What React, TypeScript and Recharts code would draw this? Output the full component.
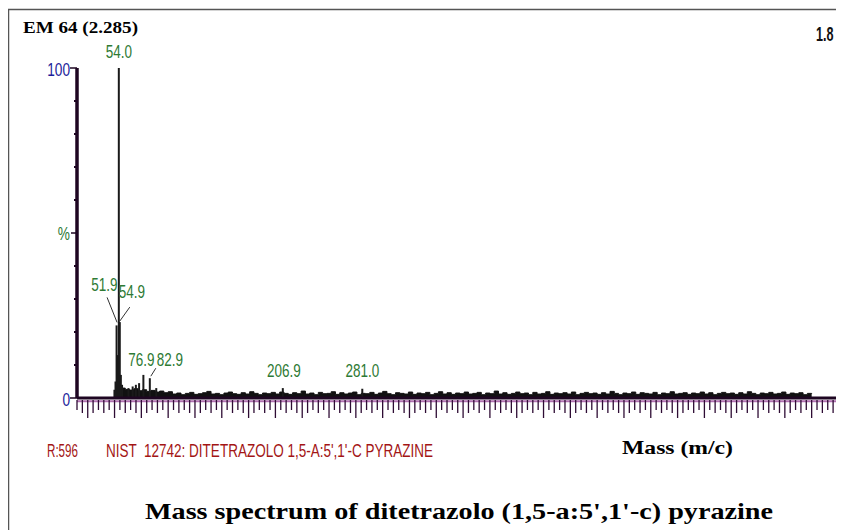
import React from 'react';
import { ComposedChart, Area, Scatter, ErrorBar, XAxis, YAxis, ReferenceDot, ReferenceLine } from 'recharts';

// Stick spectrum (m/z and relative intensity in %)
const peakMass = [49.9, 50.9, 51.9, 52.9, 54.0, 54.9, 55.9, 57.0, 63.0, 66.9, 69.9, 72.9, 76.9, 82.9, 88.9, 206.9, 281.0];
const peakIntensity = [2.5, 5, 22, 13, 100, 23, 7, 4, 3, 3.5, 4, 4.5, 7, 6, 3, 3, 2.8];

// Peaks that carry a mass label in the original
const labelledPeaks = [54.0, 51.9, 54.9, 76.9, 82.9, 206.9, 281.0];
const peakLabelText = ['54.0', '51.9', '54.9', '76.9', '82.9', '206.9', '281.0'];

// Baseline noise, sampled every 4 m/z from 56 (estimated band height, %)
const noiseStart = 56;
const noiseStep = 4;
const noiseLevel = [
  3.0, 2.6, 2.4, 2.8, 2.2, 2.5, 2.0, 2.3, 1.8, 2.1, 1.6, 1.9,
  1.2, 1.5, 1.0, 1.4, 1.7, 1.1, 1.3, 1.6, 2.0, 1.2,
  1.4, 1.0, 1.5, 1.8, 1.3, 1.1, 1.6, 1.2, 1.9, 1.4,
  1.0, 1.5, 1.3, 1.7, 1.2, 1.8, 1.4, 1.1, 1.6, 1.3,
  2.1, 1.2, 1.5, 1.0, 1.7, 1.3, 1.4, 1.9, 1.1, 1.6,
  1.2, 1.5, 1.8, 1.0, 1.4, 1.3, 1.7, 1.1, 1.5, 2.0,
  1.3, 1.0, 1.6, 1.4, 1.2, 1.8, 1.1, 1.5, 1.3, 1.7,
  1.0, 1.4, 1.9, 1.2, 1.6, 1.1, 1.5, 1.3, 1.8, 1.2,
  1.4, 1.7, 1.0, 1.5, 1.3, 2.1, 1.2, 1.6, 1.1, 1.4,
  1.8, 1.3, 1.5, 1.0, 1.7, 1.2, 1.4, 1.9, 1.1, 1.5,
  1.3, 1.6, 1.2, 1.8, 1.0, 1.4, 1.7, 1.3, 1.5, 1.1,
  1.6, 1.2, 2.0, 1.4, 1.0, 1.5, 1.3, 1.8, 1.1, 1.6,
  1.4, 1.2, 1.7, 1.0, 1.5, 1.3, 1.9, 1.2, 1.4, 1.6,
  1.1, 1.5, 1.3, 1.8, 1.2, 1.6, 1.0, 1.4, 1.7, 1.3,
  1.5, 1.1, 1.6, 1.2, 1.9, 1.4, 1.0, 1.5, 1.3, 1.7,
  1.2, 1.4, 1.8, 1.1, 1.5, 1.3, 1.6, 1.0, 1.4, 1.2,
];

const yTicks = [0, 10, 20, 30, 40, 50, 60, 70, 80, 90, 100];
const xDomain: [number, number] = [15, 760];

// noise band goes in the chart data, the sticks get their own table
const noiseRows = noiseLevel.map((v, i) => ({ mass: noiseStart + i * noiseStep, noise: v }));
const peakRows = peakMass.map((m, i) => ({ mass: m, peak: peakIntensity[i], drop: [peakIntensity[i], 0] }));

const xTicks: number[] = [];
for (let m = xDomain[0]; m <= xDomain[1]; m += 5) xTicks.push(m);

const GREEN = '#2e7a34';
const BLUE = '#1c1c9a';
const AXIS = '#1e0622';
const SANS = '"Liberation Sans", Arial, sans-serif';
const SERIF = '"Liberation Serif", "Times New Roman", serif';

// condensed text (the original uses a narrow face)
const Narrow = ({ x, y, anchor = 'start', fill, size = 18, sx = 0.75, weight, children }: any) => (
  <g transform={`translate(${x},${y}) scale(${sx},1)`}>
    <text x={0} y={0} textAnchor={anchor} fill={fill} fontFamily={SANS} fontSize={size} fontWeight={weight}>
      {children}
    </text>
  </g>
);

// label placement relative to the top of each stick
type LabelCfg = { anchor: 'start' | 'middle' | 'end'; dx: number; dy: number; leader?: [number, number, number, number] };
const labelPlacement: Record<string, LabelCfg> = {
  '54.0': { anchor: 'middle', dx: 0, dy: -10 },
  '51.9': { anchor: 'end', dx: 1, dy: -34, leader: [-9.5, -28, 0.5, -3] },
  '54.9': { anchor: 'start', dx: -1, dy: -24, leader: [10, -15, 0, -1] },
  '76.9': { anchor: 'middle', dx: -2, dy: -9 },
  '82.9': { anchor: 'start', dx: 7, dy: -12, leader: [6, -10, 1, -2] },
  '206.9': { anchor: 'middle', dx: 1, dy: -11 },
  '281.0': { anchor: 'middle', dx: 0, dy: -12 },
};

const PeakLabel = ({ cx, cy, text }: any) => {
  const cfg = labelPlacement[text];
  return (
    <g>
      {cfg.leader && (
        <line
          x1={cx + cfg.leader[0]}
          y1={cy + cfg.leader[1]}
          x2={cx + cfg.leader[2]}
          y2={cy + cfg.leader[3]}
          stroke="#333"
          strokeWidth={1}
        />
      )}
      <Narrow x={cx + cfg.dx} y={cy + cfg.dy} anchor={cfg.anchor} fill={GREEN}>
        {text}
      </Narrow>
    </g>
  );
};

const XTick = ({ x, y, payload }: any) => {
  const v = payload.value;
  const len = v % 25 === 0 ? 20 : v % 10 === 0 ? 15 : 12;
  return <line x1={x} x2={x} y1={y + 2} y2={y + len} stroke="#2e0c34" strokeWidth={1.3} />;
};

const YTick = ({ x, y, payload }: any) => {
  const v = payload.value;
  if (v === 0 || v === 100) {
    return (
      <g>
        <line x1={x - 7} x2={x} y1={y} y2={y} stroke={AXIS} strokeWidth={1.5} />
        <Narrow x={x - 7} y={y + 8} anchor="end" fill={BLUE} size={19} sx={0.72}>
          {v}
        </Narrow>
      </g>
    );
  }
  if (v === 50) {
    return (
      <g>
        <line x1={x - 6} x2={x} y1={y} y2={y} stroke={AXIS} strokeWidth={1.5} />
        <Narrow x={x - 7} y={y + 7} anchor="end" fill={GREEN} size={19} sx={0.72}>
          %
        </Narrow>
      </g>
    );
  }
  return <line x1={x - 3} x2={x} y1={y} y2={y} stroke={AXIS} strokeWidth={2} />;
};

const App = () => {
  return (
    <div style={{ position: 'relative', width: 836, height: 522, overflow: 'hidden', background: '#fff' }}>
      <ComposedChart
        width={868}
        height={522}
        data={noiseRows}
        margin={{ top: 60, right: 0, bottom: 131, left: 68 }}
      >
        <ReferenceLine y={-1} ifOverflow="visible" stroke="#b070b0" strokeWidth={2} />
        <XAxis
          dataKey="mass"
          type="number"
          domain={xDomain}
          allowDataOverflow
          ticks={xTicks}
          interval={0}
          height={1}
          tickLine={false}
          tickSize={0}
          tickMargin={0}
          tick={<XTick />}
          stroke={AXIS}
          strokeWidth={3}
          axisLine={{ stroke: AXIS, strokeWidth: 3 }}
        />
        <YAxis
          type="number"
          domain={[0, 100]}
          allowDataOverflow
          ticks={yTicks}
          interval={0}
          width={1}
          tickLine={false}
          tickSize={0}
          tickMargin={0}
          tick={<YTick />}
          stroke={AXIS}
          strokeWidth={3.5}
          axisLine={{ stroke: AXIS, strokeWidth: 3.5 }}
        />
        <Area
          dataKey="noise"
          type="stepAfter"
          stroke="#111"
          strokeWidth={1}
          fill="#111"
          fillOpacity={1}
          dot={false}
          activeDot={false}
          isAnimationActive={false}
        />
        <Scatter data={peakRows} dataKey="peak" shape={() => <g />} isAnimationActive={false}>
          <ErrorBar dataKey="drop" direction="y" width={0} stroke="#1a1a1a" strokeWidth={2} isAnimationActive={false} />
        </Scatter>
        {labelledPeaks.map((m, i) => (
          <ReferenceDot
            key={peakLabelText[i]}
            x={m}
            y={peakIntensity[peakMass.indexOf(m)]}
            r={0}
            shape={(p: any) => <PeakLabel cx={p.cx} cy={p.cy} text={peakLabelText[i]} />}
          />
        ))}
      </ComposedChart>

      <svg width={836} height={522} style={{ position: 'absolute', left: 0, top: 0, pointerEvents: 'none' }}>
        <line x1={0.5} y1={1} x2={0.5} y2={522} stroke="#555" strokeWidth={1.5} />
        <line x1={0} y1={1.5} x2={836} y2={1.5} stroke="#555" strokeWidth={1.5} />
        <text x={15} y={25} fontFamily={SERIF} fontWeight="bold" fontSize={16} textLength={115} lengthAdjust="spacingAndGlyphs">
          EM 64 (2.285)
        </text>
        <Narrow x={808} y={33} fill="#111" size={21} sx={0.6} weight="bold">
          1.8
        </Narrow>
        <text x={39} y={449} fill="#a31515" fontFamily={SANS} fontSize={19} textLength={31} lengthAdjust="spacingAndGlyphs">
          R:596
        </text>
        <text
          x={98}
          y={449}
          fill="#a31515"
          fontFamily={SANS}
          fontSize={19}
          textLength={327}
          lengthAdjust="spacingAndGlyphs"
          style={{ whiteSpace: 'pre' }}
        >
          NIST  12742: DITETRAZOLO 1,5-A:5',1'-C PYRAZINE
        </text>
        <text x={614} y={446} fontFamily={SERIF} fontWeight="bold" fontSize={19} textLength={111} lengthAdjust="spacingAndGlyphs">
          Mass (m/c)
        </text>
        <text x={137} y={511} fontFamily={SERIF} fontWeight="bold" fontSize={23} textLength={628} lengthAdjust="spacingAndGlyphs">
          Mass spectrum of ditetrazolo (1,5-a:5',1'-c) pyrazine
        </text>
      </svg>
    </div>
  );
};

export default App;
